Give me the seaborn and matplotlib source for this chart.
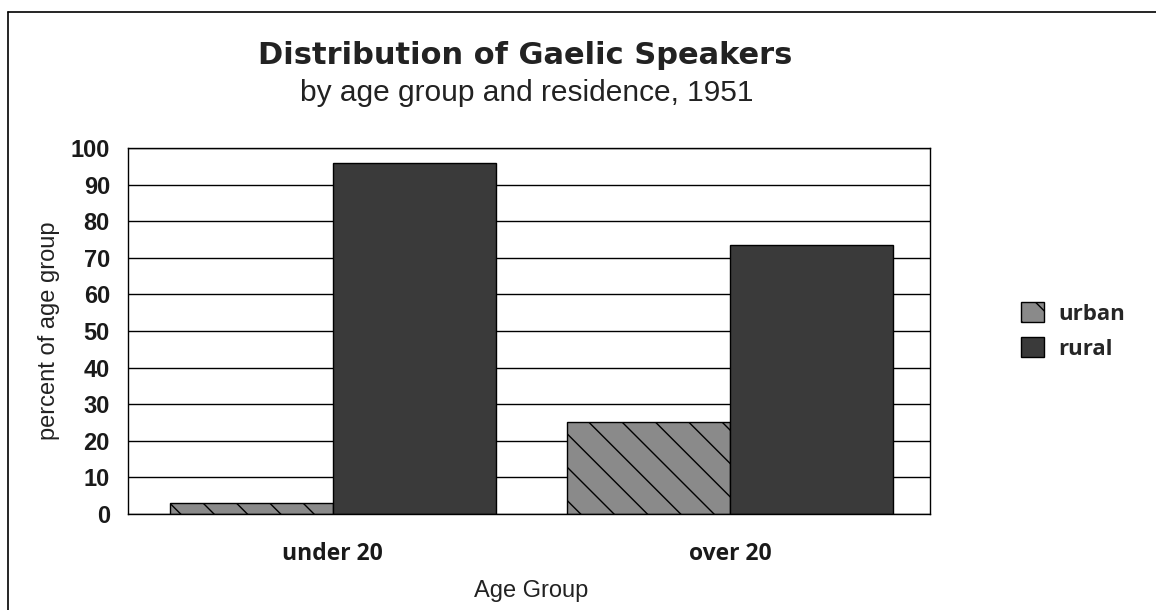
import pandas as pd
import matplotlib.pyplot as plt
import seaborn as sns
from matplotlib.patches import Patch
from matplotlib.lines import Line2D

# ---- data ----
age_groups = ['under 20', 'over 20']
residence = ['urban', 'rural']
urban_pct = [3, 25]
rural_pct = [96, 73.5]

df = pd.DataFrame({
    'Age Group': age_groups * 2,
    'residence': ['urban'] * 2 + ['rural'] * 2,
    'pct': urban_pct + rural_pct,
})

fill_colors = ['#8a8a8a', '#3a3a3a']

sns.set_style('white')
plt.rcParams['font.family'] = ['Liberation Sans', 'DejaVu Sans']

fig = plt.figure(figsize=(11.56, 6.10), dpi=100)
ax = fig.add_axes([0.1107, 0.1574, 0.6938, 0.6])

sns.barplot(data=df, x='Age Group', y='pct', hue='residence', hue_order=residence,
            order=age_groups, palette=fill_colors, saturation=1, width=0.82,
            edgecolor='black', linewidth=1, legend=False, ax=ax)

# urban bars carry a diagonal hatch
for bar in ax.containers[0]:
    bar.set_hatch('\\')

ax.set_xlim(-0.516, 1.504)
ax.set_ylim(0, 100)
ax.set_yticks(range(0, 101, 10))
ax.set_axisbelow(True)
ax.yaxis.grid(True, color='black', linewidth=1)
for s in ax.spines.values():
    s.set_visible(True)
    s.set_color('black')
    s.set_linewidth(1)
ax.tick_params(axis='both', length=0)
ax.tick_params(axis='y', pad=13)
ax.tick_params(axis='x', pad=20)
for lab in ax.get_yticklabels():
    lab.set_fontsize(17)
    lab.set_fontweight('bold')
    lab.set_color('#1a1a1a')
for lab in ax.get_xticklabels():
    lab.set_fontproperties({'family': 'Open Sans', 'weight': 'bold', 'size': 16.5})
    lab.set_color('#1a1a1a')

ax.set_ylabel('percent of age group', fontsize=17, color='#222222')
ax.yaxis.set_label_coords(-0.085, 0.5)
ax.set_xlabel('Age Group', fontsize=17, color='#222222')
ax.xaxis.set_label_coords(0.5025, -0.18)

fig.text(0.454, 0.909, 'Distribution of Gaelic Speakers', ha='center', va='center',
         fontsize=22, fontweight='bold', family='DejaVu Sans', color='#222222')
fig.text(0.456, 0.848, 'by age group and residence, 1951', ha='center', va='center',
         fontsize=21.5, color='#222222')

handles = [Patch(facecolor=fill_colors[0], edgecolor='black', hatch='\\'),
           Patch(facecolor=fill_colors[1], edgecolor='black')]
leg = fig.legend(handles, residence, loc='center left', bbox_to_anchor=(0.866, 0.458),
                 frameon=False, handlelength=1.04, handleheight=1.04, handletextpad=0.63,
                 labelspacing=0.55, prop={'family': 'Open Sans', 'weight': 'bold', 'size': 16})

# outer frame of the scanned chart (left and top edges visible)
fig.add_artist(Line2D([0.007, 0.007], [0.0, 0.980], color='black', linewidth=1.2))
fig.add_artist(Line2D([0.007, 1.0], [0.980, 0.980], color='black', linewidth=1.2))

fig.savefig('out.png', dpi=100)
